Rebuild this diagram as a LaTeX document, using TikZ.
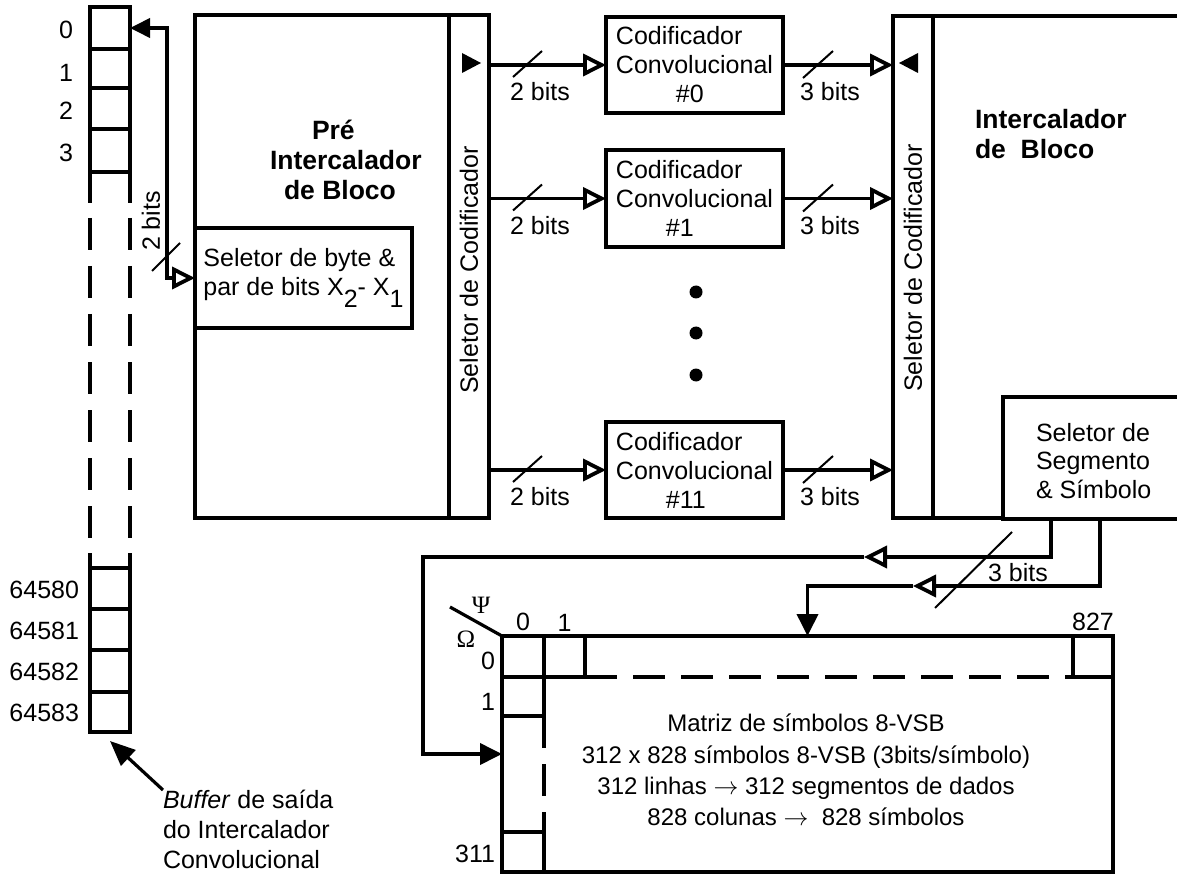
\documentclass[tikz,border=0pt]{standalone}
\usepackage{fontspec}
\setmainfont{Liberation Sans}
\newfontfamily\grkfont{Liberation Serif}
\usetikzlibrary{arrows.meta,calc}
\begin{document}
\begin{tikzpicture}[x=1pt,y=-1pt,
  every node/.style={font=\fontsize{25}{29}\selectfont, inner sep=0pt, outer sep=0pt},
  thk/.style={line width=3.8pt},
  thn/.style={line width=2pt},
  box/.style={draw, line width=3.8pt, anchor=north west, minimum width=#1},
  box/.default=40pt,
  opentip/.style={-{Triangle[open,length=23pt,width=22pt]}},
  filltip/.style={-{Triangle[length=22pt,width=21pt]}},
  lbl/.style={anchor=east},
  title/.style={font=\fontsize{26.5}{30}\selectfont\bfseries, align=left, anchor=north west},
  dsh/.style={line width=3.8pt, dash pattern=on 32pt off 16pt}
]
\useasboundingbox (0,0) rectangle (1177,882);

% ---------------- buffer ----------------
\node[box, minimum height=42pt] (b0) at (90,7) {};
\node[box, minimum height=39pt] (b1) at (90,49) {};
\node[box, minimum height=41pt] (b2) at (90,88) {};
\node[box, minimum height=43pt] (b3) at (90,129) {};
\draw[thk] (b3.south west) -- ++(0,31) (b3.south east) -- ++(0,31);
\draw[dsh] (90,218) -- (90,540) (130,218) -- (130,540);
\node[box, minimum height=41pt] (c0) at (90,568) {};
\node[box, minimum height=41pt] (c1) at (90,609) {};
\node[box, minimum height=42pt] (c2) at (90,650) {};
\node[box, minimum height=40pt] (c3) at (90,692) {};
\draw[thk] (c0.north west) -- ++(0,-15) (c0.north east) -- ++(0,-15);
\node[lbl] at ($(b0.west)+(-17,2)$) {0};
\node[lbl] at ($(b1.west)+(-17,4)$) {1};
\node[lbl] at ($(b2.west)+(-17,2)$) {2};
\node[lbl] at ($(b3.west)+(-17,2)$) {3};
\node[lbl] at ($(c0.west)+(-11,1)$) {64580};
\node[lbl] at ($(c1.west)+(-11,1)$) {64581};
\node[lbl] at ($(c2.west)+(-11,1)$) {64582};
\node[lbl] at ($(c3.west)+(-11,1)$) {64583};
\node[anchor=north west, align=left, font=\fontsize{25}{30}\selectfont] (buftxt) at (163,790)
  {\textit{Buffer} de saída\\do Intercalador\\Convolucional};
\coordinate (bt) at (163,790);
\draw[line width=3.2pt, -{Triangle[length=25pt,width=21pt]}] (bt) -- ($(c3.south)+(0,9)$);

% ---------------- pre-interleaver ----------------
\node[box=254pt, minimum height=503pt] (pre) at (195,15) {};
\node[box=40pt, minimum height=503pt] (selL) at (449,15) {};
\node[box=217pt, minimum height=100pt, align=left, fill=white] (selbyte) at (195,228)
  {Seletor de byte \&\\par de bits X\raisebox{-12pt}{2}- X\raisebox{-12pt}{1}};
\node[title] at (270,120) {\hspace{42pt}Pré\\Intercalador\\\hspace{14pt}de Bloco};
\node[rotate=90] at (469,270) {Seletor de Codificador};
\fill (462,53) -- (481,63) -- (462,73) -- cycle;

\draw[thk, {Triangle[length=20pt,width=19pt]}-{Triangle[open,length=23pt,width=22pt]}]
  (b0.east) -- ($(b0.east)+(37,0)$) |- (selbyte.west);
\draw[thn] ($(selbyte.west)+(-43,-7)$) -- ($(selbyte.west)+(-15,-35)$);
\node[rotate=90] at ($(selbyte.west)+(-44,-57)$) {2 bits};

% ---------------- encoders ----------------
\node[box=177pt, minimum height=96pt, align=left] (cc0) at (606,17)
  {Codificador\\Convolucional\\\hspace{60pt}\#0};
\node[box=177pt, minimum height=97pt, align=left] (cc1) at (606,150)
  {Codificador\\Convolucional\\\hspace{50pt}\#1};
\node[box=177pt, minimum height=96pt, align=left] (cc11) at (606,422)
  {Codificador\\Convolucional\\\hspace{50pt}\#11};
\fill (696,292) circle (6.5pt);
\fill (696,333) circle (6.5pt);
\fill (696,375) circle (6.5pt);

% ---------------- block interleaver ----------------
\node[box=260pt, minimum height=502pt] (inter) at (933,16) {};
\node[box=40pt, minimum height=502pt] (selR) at (893,16) {};
\node[rotate=90] at (913,268) {Seletor de Codificador};
\fill (918,53) -- (899,63) -- (918,73) -- cycle;
\node[title] at (975,109) {Intercalador\\de\ \ Bloco};
\node[box=200pt, minimum height=122pt, fill=white] (selseg) at (1003,397) {};
\node[anchor=west, align=left, font=\fontsize{25}{28.5}\selectfont] at (1036,461) {Seletor de\\Segmento\\\& Símbolo};

\foreach \c in {cc0,cc1,cc11}{
  \draw[thk, opentip] (selL.east |- \c.west) -- (\c.west);
  \draw[thk, opentip] (\c.east) -- (selR.west |- \c.east);
  \draw[thn] ($(\c.west)+(-93,12)$) -- ($(\c.west)+(-64,-14)$);
  \draw[thn] ($(\c.east)+(20,13)$) -- ($(\c.east)+(50,-14)$);
  \node at ($(\c.west)+(-66,27)$) {2 bits};
  \node at ($(\c.east)+(47,27)$) {3 bits};
}

% ---------------- matrix ----------------
\node[box=611pt, minimum height=236pt] (mat) at (502,636) {};
\node[box=42pt, minimum height=41pt] (m00) at (502,636) {};
\node[box=41pt, minimum height=41pt] (m01) at (544,636) {};
\node[box=40pt, minimum height=41pt] (m0e) at (1073,636) {};
\node[box=42pt, minimum height=39pt] (m10) at (502,677) {};
\node[box=42pt, minimum height=40pt] (mz) at (502,832) {};
\draw[dsh] (m01.south east) -- (m0e.south west);
\draw[dsh] (m10.south east) -- (mz.north east);
\draw[line width=3.2pt] (450,607) -- (mat.north west);
\node[font=\grkfont\fontsize{25}{25}\selectfont] at (481,605) {Ψ};
\node[font=\grkfont\fontsize{25}{25}\selectfont] at (466,639) {Ω};
\node[anchor=south] at ($(m00.north)+(0,-5)$) {0};
\node[anchor=south] at ($(m01.north)+(0,-5)$) {1};
\node[anchor=south] at ($(m0e.north)+(0,-5)$) {827};
\node[lbl] at ($(m00.west)+(-7,4)$) {0};
\node[lbl] at ($(m10.west)+(-7,5)$) {1};
\node[lbl] at ($(mz.west)+(-7,2)$) {311};
\node[align=center, font=\fontsize{24}{31.3}\selectfont] at (806,770)
  {Matriz de símbolos 8-VSB\\312 x 828 símbolos 8-VSB (3bits/símbolo)\\312 linhas $\rightarrow$ 312 segmentos de dados\\828 colunas $\rightarrow$\ \ 828 símbolos};

% ---------------- connectors from segment selector ----------------
\coordinate (ma) at (864,557);
\coordinate (mb) at (913,586);
\draw[thk, opentip] ($(selseg.south west)+(48,0)$) |- (ma);
\draw[thk, filltip] (ma) -| ($(mat.west)+(-79,0)$) -- (mat.west);
\draw[thk, opentip] ($(selseg.south west)+(97,0)$) |- (mb);
\draw[thk, filltip] (mb) -| (mat.north);
\draw[thn] (935,608) -- (1012,532);
\node at (1018,573) {3 bits};
\end{tikzpicture}
\end{document}
